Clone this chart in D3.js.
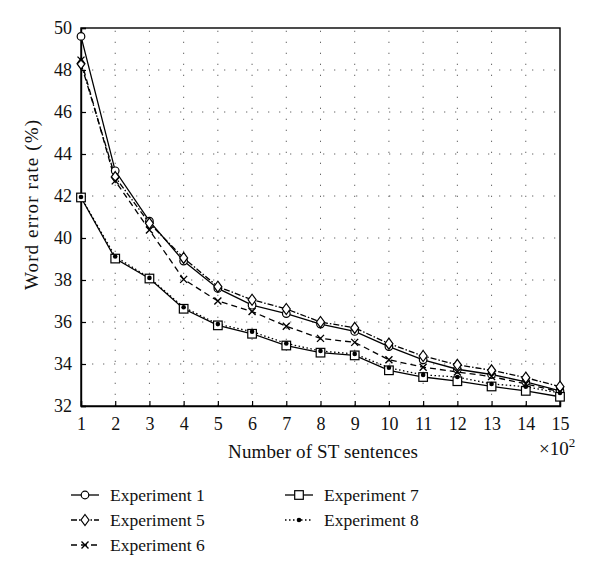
<!DOCTYPE html>
<html><head><meta charset="utf-8">
<script src="https://cdn.jsdelivr.net/npm/d3@7"></script>
<style>body{margin:0;background:#fff}svg{display:block}svg text{font-family:"Liberation Serif","DejaVu Serif","Times New Roman",serif;fill:#111}</style>
</head><body><svg id="c" width="600" height="578"></svg>
<script>
const xValues = [1,2,3,4,5,6,7,8,9,10,11,12,13,14,15];
const exp1 = [49.6,43.2,40.8,38.9,37.6,36.8,36.4,35.9,35.55,34.83,34.2,33.75,33.5,33.15,32.72];
const exp5 = [48.3,42.9,40.7,39.05,37.68,37.06,36.62,36.0,35.72,34.97,34.38,33.96,33.7,33.35,32.92];
const exp6 = [48.47,42.72,40.38,38.03,37.0,36.5,35.8,35.22,35.03,34.2,33.85,33.62,33.4,33.05,32.68];
const exp7 = [41.93,39.02,38.07,36.63,35.84,35.44,34.88,34.54,34.41,33.7,33.38,33.18,32.93,32.72,32.44];
const exp8 = [41.95,39.12,38.1,36.7,35.9,35.54,34.98,34.62,34.48,33.82,33.48,33.38,33.05,32.92,32.62];
const yTicks = [32,34,36,38,40,42,44,46,48,50];
const seriesNames = ["Experiment 1","Experiment 5","Experiment 6","Experiment 7","Experiment 8"];

const series = [
  {name:seriesNames[0], values:exp1, dash:null, marker:"circle"},
  {name:seriesNames[1], values:exp5, dash:"6,2,1.5,2", marker:"diamond"},
  {name:seriesNames[2], values:exp6, dash:"6,4", marker:"cross"},
  {name:seriesNames[3], values:exp7, dash:null, marker:"square"},
  {name:seriesNames[4], values:exp8, dash:"1.5,2.5", marker:"dot"}
];

const FONT = '"Liberation Serif","DejaVu Serif",serif';
const svg = d3.select("#c").attr("font-family",FONT);
const L=81, R=560, T=28, B=406;
const x = d3.scaleLinear().domain([1,15]).range([L,R]);
const y = d3.scaleLinear().domain([32,50]).range([B,T]);

// grid
const grid = svg.append("g").attr("stroke","#666").attr("stroke-width",1).attr("stroke-dasharray","1.3,9.7");
xValues.slice(1,-1).forEach(v=>grid.append("line").attr("x1",x(v)).attr("x2",x(v)).attr("y1",B).attr("y2",T));
yTicks.slice(1,-1).forEach(v=>grid.append("line").attr("x1",L).attr("x2",R).attr("y1",y(v)).attr("y2",y(v)));

// frame
svg.append("rect").attr("x",L).attr("y",T).attr("width",R-L).attr("height",B-T)
  .attr("fill","none").attr("stroke","#000").attr("stroke-width",1.4);

// axes
const xAxis = svg.append("g").attr("transform",`translate(0,${B})`)
  .call(d3.axisBottom(x).tickValues(xValues).tickSize(-5).tickPadding(11).tickFormat(d3.format("d")));
const yAxis = svg.append("g").attr("transform",`translate(${L},0)`)
  .call(d3.axisLeft(y).tickValues(yTicks).tickSize(-5).tickPadding(9).tickFormat(d3.format("d")));
[xAxis,yAxis].forEach(a=>{
  a.attr("font-family",FONT).attr("font-size",18);
  a.select(".domain").attr("stroke","#000").attr("stroke-width",1.4);
  a.selectAll(".tick line").attr("stroke","#000").attr("stroke-width",1.2);
  a.selectAll(".tick text").attr("font-size",18).attr("fill","#111");
});

// titles
svg.append("text").attr("x",323).attr("y",458).attr("text-anchor","middle").attr("font-size",19)
  .attr("textLength",190).attr("lengthAdjust","spacing").text("Number of ST sentences");
const xt = svg.append("text").attr("x",539).attr("y",455).attr("font-size",19);
xt.append("tspan").text("\u00d710");
xt.append("tspan").attr("font-size",13).attr("dy",-8).text("2");
svg.append("text").attr("transform",`translate(38,205) rotate(-90)`).attr("text-anchor","middle").attr("font-size",19)
  .attr("textLength",170).attr("lengthAdjust","spacing").text("Word error rate (%)");

function drawMarker(g, type, cx, cy){
  if(type==="circle") g.append("circle").attr("cx",cx).attr("cy",cy).attr("r",3.8).attr("fill","#fff").attr("stroke","#000").attr("stroke-width",1.2);
  else if(type==="diamond") g.append("path").attr("d",`M${cx},${cy-5.5}L${cx+4},${cy}L${cx},${cy+5.5}L${cx-4},${cy}Z`).attr("fill","#fff").attr("stroke","#000").attr("stroke-width",1.2);
  else if(type==="square") g.append("rect").attr("x",cx-4.3).attr("y",cy-4.3).attr("width",8.6).attr("height",8.6).attr("fill","#fff").attr("stroke","#000").attr("stroke-width",1.2);
  else if(type==="cross") g.append("path").attr("d",`M${cx-3.5},${cy-3.5}L${cx+3.5},${cy+3.5}M${cx-3.5},${cy+3.5}L${cx+3.5},${cy-3.5}`).attr("stroke","#000").attr("stroke-width",1.4);
  else if(type==="dot") g.append("circle").attr("cx",cx).attr("cy",cy).attr("r",2.3).attr("fill","#000");
}

const line = d3.line().x((d,i)=>x(xValues[i])).y(d=>y(d));
const plot = svg.append("g");
series.forEach(s=>{
  plot.append("path").datum(s.values).attr("d",line).attr("fill","none").attr("stroke","#000")
    .attr("stroke-width",1.3).attr("stroke-dasharray",s.dash);
});
series.forEach(s=>{
  s.values.forEach((v,i)=>drawMarker(plot,s.marker,x(xValues[i]),y(v)));
});

// legend
const legendPos = [[71,495],[71,520],[71,545],[285,495],[285,520]];
series.forEach((s,i)=>{
  const [lx,ly] = legendPos[i];
  const g = svg.append("g");
  g.append("line").attr("x1",lx).attr("x2",lx+28).attr("y1",ly).attr("y2",ly).attr("stroke","#000").attr("stroke-width",1.3).attr("stroke-dasharray",s.dash);
  drawMarker(g,s.marker,lx+14,ly);
  g.append("text").attr("x",lx+39).attr("y",ly+5.5).attr("font-size",17.5).text(s.name);
});
</script></body></html>
